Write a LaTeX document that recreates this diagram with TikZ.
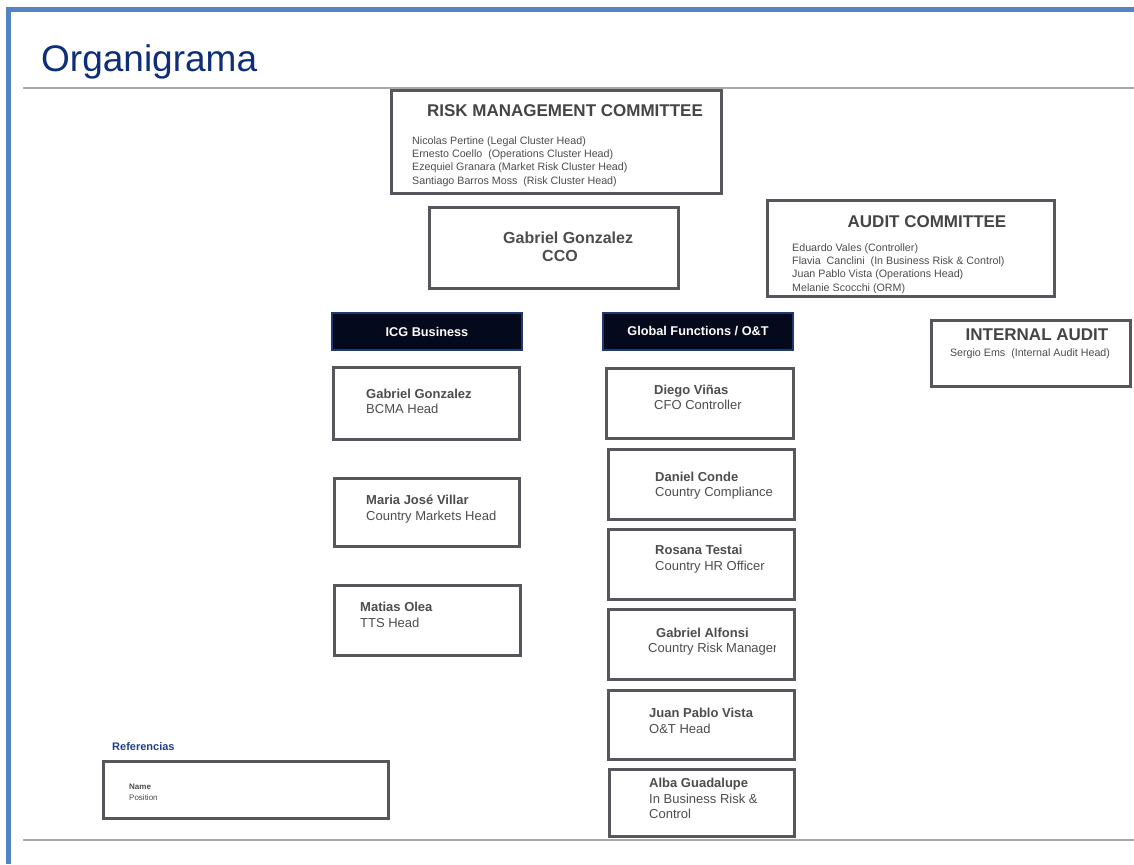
\documentclass[tikz,border=0pt]{standalone}
\usepackage{fontspec}
\setmainfont{Liberation Sans}
\definecolor{frameblue}{HTML}{5383C3}
\definecolor{titleblue}{HTML}{0D2E78}
\definecolor{rulegray}{HTML}{A8A8A8}
\definecolor{boxgray}{HTML}{55575C}
\definecolor{textgray}{HTML}{4D4D4D}
\definecolor{navyfill}{HTML}{040A1C}
\definecolor{navyline}{HTML}{1F3A70}
\definecolor{refblue}{HTML}{1F3F8F}
\newcommand\fsz[2]{\fontsize{#1}{#2}\selectfont}
\tikzset{
  box/.style={draw=boxgray, line width=3.2pt, fill=white, inner sep=0pt},
  hdr/.style={draw=navyline, line width=1.5pt, fill=navyfill, inner sep=0pt,
    text=white, font=\fsz{12.7}{15}\bfseries, minimum width=190, minimum height=37},
  ctitle/.style={inner sep=0pt, text=textgray!90!black, font=\fsz{17}{20}\bfseries},
  members/.style={inner sep=0pt, anchor=west, align=left, text=textgray, font=\fsz{10.7}{13.4}},
  person/.style={inner sep=0pt, anchor=west, align=left, text=textgray, font=\fsz{13}{15.5}},
}
\begin{document}
\begin{tikzpicture}[x=1pt,y=-1pt]
\useasboundingbox (0,0) rectangle (1134,864);
\fill[white] (0,0) rectangle (1134,864);
% frame and rules
\draw[frameblue, line width=5pt, line join=miter] (8.5,864) -- (8.5,9.5) -- (1134,9.5);
\draw[rulegray, line width=1.5pt] (23,88) -- (1134,88);
\draw[rulegray, line width=1.5pt] (23,840) -- (1134,840);
\node[anchor=base west, inner sep=0pt, text=titleblue, font=\fsz{37}{40}] (title) at (41,72) {Organigrama};

% committees
\node[box, minimum width=330, minimum height=103] (rmc) at (556.5,142) {};
\node[ctitle] (rmct) at (565,111) {RISK MANAGEMENT COMMITTEE};
\node[members] (rmcm) at (412,161.5) {Nicolas Pertine (Legal Cluster Head)\\Ernesto Coello\ \ (Operations Cluster Head)\\Ezequiel Granara (Market Risk Cluster Head)\\Santiago Barros Moss\ \ (Risk Cluster Head)};

\node[box, minimum width=249, minimum height=81] (cco) at (554,248) {};
\node[inner sep=0pt, anchor=west, align=left, text=textgray, font=\fsz{16}{18}\bfseries] (ccot) at (503,247) {Gabriel Gonzalez\\\hspace*{39pt}CCO};

\node[box, minimum width=287, minimum height=96] (ac) at (911,248.5) {};
\node[ctitle] (act) at (927,222) {AUDIT COMMITTEE};
\node[members] (acm) at (792,268.5) {Eduardo Vales (Controller)\\Flavia\ \ Canclini\ \ (In Business Risk \& Control)\\Juan Pablo Vista (Operations Head)\\Melanie Scocchi (ORM)};

\node[box, minimum width=199, minimum height=66] (ia) at (1031,353.5) {};
\node[ctitle] (iat) at (1037,335) {INTERNAL AUDIT};
\node[members, anchor=center, font=\fsz{10.7}{13}] (iam) at (1030,354) {Sergio Ems\ \ (Internal Audit Head)};

% headers
\node[hdr] (icg) at (427,331.5) {ICG Business};
\node[hdr] (gf) at (698,331.5) {Global Functions / O\&T};

% ICG column
\node[box, minimum width=186, minimum height=72] (b1) at (426.5,403.5) {};
\node[person] (b1t) at (366,401.5) {\textbf{Gabriel Gonzalez}\\BCMA Head};
\node[box, minimum width=185, minimum height=68] (b2) at (427,512.5) {};
\node[person] (b2t) at (366,509) {\textbf{Maria José Villar}\\Country Markets Head};
\node[box, minimum width=186, minimum height=70] (b3) at (427.5,620.5) {};
\node[person] (b3t) at (360,615) {\textbf{Matias Olea}\\TTS Head};

% Global functions column
\node[box, minimum width=187, minimum height=70] (g1) at (700,403.5) {};
\node[person] (g1t) at (654,397.5) {\textbf{Diego Viñas}\\CFO Controller};
\node[box, minimum width=186, minimum height=70] (g2) at (701.5,484.5) {};
\node[person] (g2t) at (655,485.5) {\textbf{Daniel Conde}\\Country Compliance};
\node[box, minimum width=186, minimum height=70] (g3) at (701.5,564.5) {};
\node[person] (g3t) at (655,559) {\textbf{Rosana Testai}\\Country HR Officer};
\node[box, minimum width=186, minimum height=70] (g4) at (701.5,644.5) {};
\begin{scope}
\clip (610,612) rectangle (775,678);
\node[person] (g4t) at (648,641.5) {\hspace*{8pt}\textbf{Gabriel Alfonsi}\\Country Risk Manager};
\end{scope}
\node[box, minimum width=186, minimum height=69] (g5) at (701.5,725) {};
\node[person] (g5t) at (649,721) {\textbf{Juan Pablo Vista}\\O\&T Head};
\node[box, minimum width=185, minimum height=67] (g6) at (702,803) {};
\node[person] (g6t) at (649,798.5) {\textbf{Alba Guadalupe}\\In Business Risk \&\\Control};

% references
\node[inner sep=0pt, anchor=west, text=refblue, font=\fsz{11}{13}\bfseries] (reft) at (112,747) {Referencias};
\node[box, minimum width=285, minimum height=57] (ref) at (246,790) {};
\node[person, font=\fsz{8}{11}] (refm) at (129,792.5) {\textbf{Name}\\Position};
\end{tikzpicture}
\end{document}
